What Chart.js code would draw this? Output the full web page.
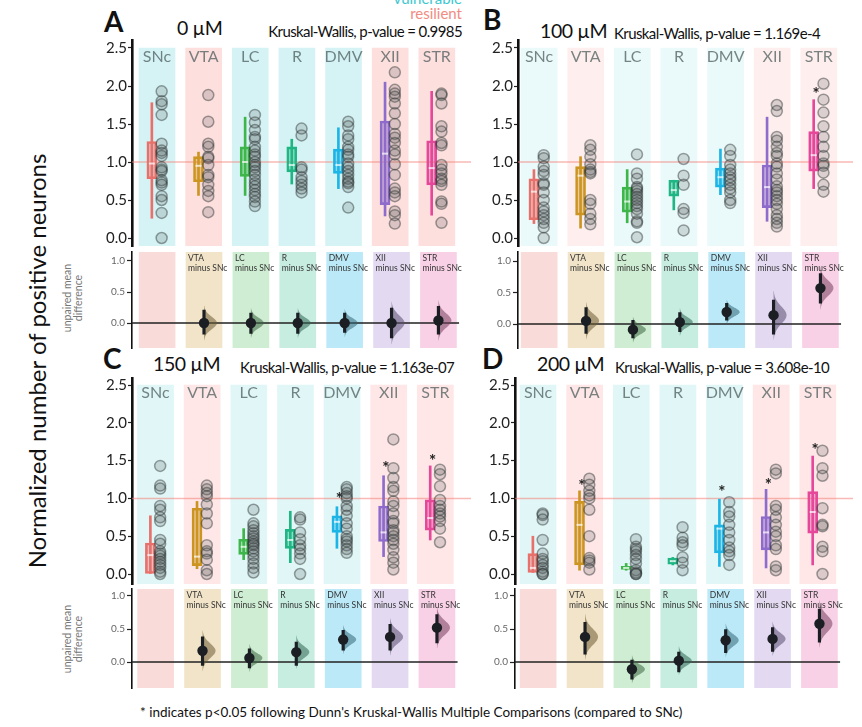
<!DOCTYPE html>
<html>
<head>
<meta charset="utf-8">
<script src="https://cdn.jsdelivr.net/npm/chart.js@4.4.1/dist/chart.umd.min.js"></script>
<style>
  body { margin: 0; width: 862px; height: 727px; background: #fff; position: relative; overflow: hidden; font-family: Lato, sans-serif; }
  canvas { position: absolute; }
  .t { position: absolute; white-space: nowrap; color: #111; }
  .dose { font-size: 19.5px; line-height: 20px; letter-spacing: -0.4px; }
  .kw { font-size: 15px; line-height: 15px; letter-spacing: -0.6px; }
  .rot { position: absolute; text-align: center; transform: rotate(-90deg); white-space: nowrap; }
</style>
</head>
<body>
<div class="t" style="right:400px;top:-9px;font-size:15px;line-height:15px;color:#3cc8d0">vulnerable</div>
<div class="t" style="right:400px;top:6px;font-size:15px;line-height:15px;color:#f28b82">resilient</div>

<div class="t" style="left:104px;top:7px;font-size:28px;line-height:28px;font-weight:bold">A</div>
<div class="t dose" style="left:177px;top:18px">0 µM</div>
<div class="t kw" style="right:400px;top:24px">Kruskal-Wallis, p-value = 0.9985</div>

<div class="t" style="left:483px;top:5px;font-size:28px;line-height:28px;font-weight:bold">B</div>
<div class="t dose" style="left:540px;top:21px">100 µM</div>
<div class="t kw" style="left:614px;top:26px">Kruskal-Wallis, p-value = 1.169e-4</div>

<div class="t" style="left:103px;top:344px;font-size:28px;line-height:28px;font-weight:bold">C</div>
<div class="t dose" style="left:153px;top:354px">150 µM</div>
<div class="t kw" style="left:240px;top:360px">Kruskal-Wallis, p-value = 1.163e-07</div>

<div class="t" style="left:482px;top:344px;font-size:28px;line-height:28px;font-weight:bold">D</div>
<div class="t dose" style="left:537px;top:354px">200 µM</div>
<div class="t kw" style="left:615px;top:360px">Kruskal-Wallis, p-value = 3.608e-10</div>

<div class="rot" style="left:-183px;top:347px;width:440px;font-size:24px;line-height:28px;color:#111">Normalized number of positive neurons</div>
<div class="rot" style="left:33px;top:287px;width:80px;font-size:10.5px;line-height:11px;color:#777">unpaired mean<br>difference</div>
<div class="rot" style="left:33px;top:628px;width:80px;font-size:10.5px;line-height:11px;color:#777">unpaired mean<br>difference</div>

<div class="t" style="left:140px;top:705px;font-size:13.5px;line-height:14px;color:#111">* indicates p&lt;0.05 following Dunn's Kruskal-Wallis Multiple Comparisons (compared to SNc)</div>

<script>
// groups and colours
const groups = ['SNc', 'VTA', 'LC', 'R', 'DMV', 'XII', 'STR'];
const vulnerable = [true, false, true, true, true, false, false];
const groupColors = ['#E8716B', '#CC9522', '#3FB64A', '#20B684', '#1DB5E6', '#8E6CCB', '#E5489B'];
const topTicks = [0, 0.5, 1, 1.5, 2, 2.5];
const diffTicks = [0, 0.5, 1];

// individual values, one list per group (SNc..STR)
const pointsA = [
  [1.93, 1.8, 1.76, 1.62, 1.24, 1.15, 1.12, 1.08, 0.93, 0.9, 0.88, 0.76, 0.73, 0.7, 0.55, 0.5, 0.33, 0.0],
  [1.88, 1.53, 1.24, 1.2, 1.07, 1.05, 0.96, 0.83, 0.8, 0.7, 0.62, 0.55, 0.34],
  [1.62, 1.52, 1.42, 1.33, 1.3, 1.2, 1.15, 1.1, 1.07, 1.0, 0.96, 0.93, 0.88, 0.83, 0.77, 0.72, 0.68, 0.63, 0.58, 0.54, 0.48, 0.42],
  [1.44, 1.35, 0.93, 0.9, 0.8, 0.75, 0.7, 0.65, 0.6],
  [1.53, 1.47, 1.35, 1.3, 1.2, 1.16, 1.1, 1.07, 0.98, 0.93, 0.88, 0.83, 0.78, 0.74, 0.72, 0.67, 0.4],
  [2.18, 1.95, 1.9, 1.86, 1.77, 1.64, 1.5, 1.37, 1.32, 1.25, 1.15, 1.1, 0.97, 0.83, 0.65, 0.6, 0.55, 0.35, 0.3, 0.19],
  [1.9, 1.88, 1.77, 1.47, 1.4, 1.25, 1.22, 0.96, 0.9, 0.85, 0.78, 0.75, 0.7, 0.48, 0.45, 0.2]
];
const pointsB = [
  [1.09, 1.05, 0.94, 0.88, 0.83, 0.72, 0.7, 0.6, 0.5, 0.4, 0.35, 0.3, 0.25, 0.2, 0.14, 0.0],
  [1.22, 1.16, 1.07, 0.97, 0.9, 0.87, 0.85, 0.5, 0.45, 0.32, 0.25, 0.18],
  [1.1, 0.85, 0.78, 0.67, 0.65, 0.62, 0.58, 0.54, 0.5, 0.46, 0.42, 0.38, 0.32, 0.22, 0.2, 0.01],
  [1.04, 0.82, 0.7, 0.38, 0.33, 0.1],
  [1.16, 1.08, 0.96, 0.9, 0.85, 0.8, 0.76, 0.7, 0.65, 0.6, 0.5, 0.46],
  [1.75, 1.67, 1.33, 1.28, 1.2, 1.12, 1.08, 0.98, 0.94, 0.85, 0.77, 0.68, 0.63, 0.6, 0.55, 0.5, 0.45, 0.38, 0.3, 0.25, 0.2, 0.15],
  [2.03, 1.82, 1.65, 1.47, 1.33, 1.2, 1.08, 0.98, 0.95, 0.86, 0.7, 0.61]
];
const pointsC = [
  [1.43, 1.17, 1.13, 0.9, 0.85, 0.75, 0.7, 0.45, 0.4, 0.3, 0.27, 0.24, 0.2, 0.16, 0.12, 0.08, 0.03, 0.0],
  [1.17, 1.12, 1.07, 1.03, 0.92, 0.8, 0.67, 0.38, 0.3, 0.27, 0.19, 0.05, 0.0],
  [0.85, 0.67, 0.63, 0.58, 0.54, 0.5, 0.47, 0.43, 0.4, 0.38, 0.34, 0.3, 0.25, 0.2, 0.14, 0.08, 0.02],
  [0.75, 0.72, 0.55, 0.46, 0.38, 0.33, 0.27, 0.2, 0.0],
  [1.15, 1.12, 1.07, 1.03, 1.0, 0.9, 0.85, 0.77, 0.67, 0.6, 0.5, 0.46, 0.43, 0.38, 0.33, 0.28],
  [1.78, 1.4, 1.27, 1.15, 1.1, 0.96, 0.9, 0.8, 0.7, 0.67, 0.58, 0.55, 0.5, 0.45, 0.4, 0.32, 0.22, 0.15, 0.06],
  [1.38, 1.32, 1.16, 0.98, 0.9, 0.85, 0.8, 0.76, 0.7, 0.6, 0.42]
];
const pointsD = [
  [0.8, 0.78, 0.72, 0.45, 0.27, 0.2, 0.17, 0.12, 0.08, 0.03, 0.0, 0.0],
  [1.26, 1.18, 1.1, 1.04, 1.0, 0.85, 0.5, 0.21, 0.18, 0.15, 0.06],
  [0.46, 0.36, 0.33, 0.3, 0.25, 0.2, 0.14, 0.05, 0.02, 0.0, 0.0],
  [0.62, 0.48, 0.42, 0.38, 0.22, 0.15, 0.05],
  [0.95, 0.82, 0.76, 0.65, 0.55, 0.45, 0.35, 0.3, 0.25, 0.12],
  [1.38, 1.33, 0.9, 0.85, 0.75, 0.65, 0.56, 0.5, 0.38, 0.33, 0.1, 0.05],
  [1.63, 1.4, 1.3, 0.87, 0.65, 0.63, 0.36, 0.3, 0.0]
];

// box summaries per group: [whisker low, q1, median, q3, whisker high]
const boxesA = [[0.26, 0.78, 0.98, 1.27, 1.78], [0.56, 0.74, 0.95, 1.07, 1.13], [0.56, 0.81, 1.0, 1.2, 1.59],
  [0.71, 0.87, 0.96, 1.2, 1.3], [0.65, 0.85, 0.96, 1.17, 1.45], [0.29, 0.44, 1.11, 1.54, 2.05], [0.3, 0.7, 0.92, 1.28, 1.93]];
const boxesB = [[0.19, 0.24, 0.61, 0.78, 0.9], [0.13, 0.3, 0.82, 0.94, 1.07], [0.2, 0.34, 0.48, 0.67, 0.9],
  [0.37, 0.55, 0.63, 0.76, 0.76], [0.57, 0.67, 0.8, 0.92, 1.17], [0.22, 0.4, 0.67, 0.96, 1.59], [0.65, 0.88, 1.09, 1.4, 1.82]];
const boxesC = [[0.0, 0.0, 0.25, 0.41, 0.77], [0.07, 0.11, 0.23, 0.87, 0.96], [0.19, 0.26, 0.36, 0.46, 0.6],
  [0.15, 0.34, 0.45, 0.59, 0.83], [0.34, 0.55, 0.69, 0.77, 0.89], [0.23, 0.43, 0.55, 0.9, 1.3], [0.45, 0.58, 0.74, 0.98, 1.43]];
const boxesD = [[0.02, 0.02, 0.08, 0.27, 0.5], [0.05, 0.12, 0.65, 0.96, 1.1], [0.05, 0.06, 0.08, 0.1, 0.14],
  [0.12, 0.13, 0.17, 0.21, 0.22], [0.1, 0.28, 0.6, 0.65, 0.99], [0.08, 0.32, 0.55, 0.76, 1.12], [0.12, 0.54, 0.82, 1.09, 1.56]];

// significance stars (height of the asterisk), null = none
const starsA = [null, null, null, null, null, null, null];
const starsB = [null, null, null, null, null, null, 1.94];
const starsC = [null, null, null, null, 1.03, 1.44, 1.54];
const starsD = [null, 1.21, null, null, 1.12, 1.22, 1.68];

// mean difference vs SNc for VTA..STR: [mean, ci low, ci high]
const diffsA = [[0.0, -0.18, 0.21], [0.0, -0.17, 0.16], [0.0, -0.17, 0.16], [0.0, -0.15, 0.16], [0.0, -0.24, 0.24], [0.04, -0.18, 0.27]];
const diffsB = [[0.05, -0.15, 0.26], [-0.09, -0.22, 0.06], [0.03, -0.12, 0.18], [0.19, 0.06, 0.33], [0.14, -0.16, 0.38], [0.57, 0.33, 0.8]];
const diffsC = [[0.17, -0.05, 0.38], [0.06, -0.09, 0.2], [0.15, -0.05, 0.3], [0.34, 0.18, 0.48], [0.38, 0.18, 0.57], [0.52, 0.29, 0.72]];
const diffsD = [[0.38, 0.12, 0.6], [-0.11, -0.26, 0.03], [0.02, -0.15, 0.15], [0.33, 0.14, 0.49], [0.35, 0.16, 0.52], [0.58, 0.3, 0.8]];

// pixel layout of each panel
const UNIT = 47.6;
const BOX_DX = -0.11, PT_DX = 0.1;
const layoutA = { axisX: 132, c1: 157.5, right: 478, top: [40, 246], y0: 238, y25: 48, bot: [252, 348], b0: 323, b1: 261 };
const layoutB = { axisX: 518, c1: 539.5, right: 860, top: [40, 246], y0: 238, y25: 48, bot: [252, 348], b0: 324, b1: 261 };
const layoutC = { axisX: 132, c1: 156, right: 478, top: [378, 584], y0: 574, y25: 385, bot: [589, 688], b0: 662, b1: 596 };
const layoutD = { axisX: 515, c1: 538.5, right: 860, top: [378, 584], y0: 574, y25: 385, bot: [589, 688], b0: 662, b1: 596 };

function rgba(hex, a, f = 1, g = 0) {
  // f scales the colour, g blends it towards a dark grey
  const n = parseInt(hex.slice(1), 16);
  const ch = v => Math.round((v * f) * (1 - g) + 70 * g);
  return `rgba(${ch(n >> 16)}, ${ch((n >> 8) & 255)}, ${ch(n & 255)}, ${a})`;
}

function xRange(L) {
  return { min: 1 - (L.c1 - L.axisX) / UNIT, max: 1 + (L.right - L.c1) / UNIT };
}

function yRange(pxTop, pxBottom, pxZero, pxRef, refVal) {
  const per = (pxZero - pxRef) / refVal;
  return { min: (pxZero - pxBottom) / per, max: (pxZero - pxTop) / per };
}

function placeCanvas(left, top, width, height) {
  const c = document.createElement('canvas');
  c.width = Math.round(width);
  c.height = Math.round(height);
  c.style.left = left + 'px';
  c.style.top = top + 'px';
  c.style.width = c.width + 'px';
  c.style.height = c.height + 'px';
  document.body.appendChild(c);
  return c;
}

function yAxis(range, ticks, o) {
  return {
    type: 'linear', min: range.min, max: range.max,
    afterBuildTicks: s => { s.ticks = ticks.map(v => ({ value: v })); },
    afterFit: s => { s.width = 32; s.paddingTop = 0; s.paddingBottom = 0; },
    border: { display: true, color: '#111', width: o.border },
    grid: { drawOnChartArea: false, drawTicks: true, tickLength: o.tickLen, tickColor: '#222', tickWidth: 1.2 },
    ticks: { color: o.color, font: { family: 'Lato', size: o.size }, padding: o.pad, callback: v => v.toFixed(1) }
  };
}

function baseOptions(xr, yScale, pad) {
  return {
    responsive: false, animation: false, events: [],
    layout: { padding: { top: pad, bottom: pad, left: 0, right: 0 } },
    plugins: { legend: { display: false }, tooltip: { enabled: false } },
    scales: {
      x: { type: 'linear', display: false, min: xr.min, max: xr.max, offset: false },
      y: yScale
    }
  };
}

function topText(stars) {
  return {
    id: 'topText',
    afterDatasetsDraw(chart) {
      const { ctx, scales: { x, y } } = chart;
      ctx.save();
      ctx.font = '16px Lato';
      ctx.fillStyle = 'rgba(70, 88, 88, 0.72)';
      ctx.textAlign = 'center';
      ctx.textBaseline = 'middle';
      groups.forEach((g, i) => ctx.fillText(g, x.getPixelForValue(i + 1), y.getPixelForValue(2.39)));
      ctx.font = 'bold 17px Lato';
      ctx.fillStyle = '#222';
      ctx.textBaseline = 'alphabetic';
      stars.forEach((s, i) => {
        if (s !== null) ctx.fillText('*', x.getPixelForValue(i + 1 - 0.06), y.getPixelForValue(s) + 9);
      });
      ctx.restore();
    }
  };
}

function drawTop(L, pts, box, stars, bandAlpha) {
  const xr = xRange(L);
  const yr = yRange(L.top[0], L.top[1], L.y0, L.y25, 2.5);
  const left = L.axisX - 32;
  const cv = placeCanvas(left, L.top[0] - 10, L.right - left, L.top[1] - L.top[0] + 20);
  const bandColors = vulnerable.map(v => v ? rgba('#2EC4CC', bandAlpha) : rgba('#F8766D', bandAlpha * 1.15));
  new Chart(cv, {
    type: 'scatter',
    data: {
      datasets: [
        { type: 'bar', label: 'bands', data: groups.map((g, i) => ({ x: i + 1, y: [yr.min, 2.5] })),
          backgroundColor: bandColors, barThickness: 36, grouped: false, order: 20 },
        { type: 'line', label: 'ref', data: [{ x: xr.min, y: 1 }, { x: xr.max, y: 1 }],
          borderColor: 'rgba(244, 128, 118, 0.55)', borderWidth: 1.5, pointRadius: 0, order: 15 },
        { type: 'bar', label: 'whiskers', data: box.map((b, i) => ({ x: i + 1 + BOX_DX, y: [b[0], b[4]] })),
          backgroundColor: groupColors, barThickness: 2, grouped: false, order: 12 },
        { type: 'bar', label: 'boxes', data: box.map((b, i) => ({ x: i + 1 + BOX_DX, y: [b[1], b[3]] })),
          backgroundColor: groupColors.map(c => rgba(c, 0.4)), borderColor: groupColors, borderWidth: 2,
          borderSkipped: false, barThickness: 10, grouped: false, order: 11 },
        { label: 'medians', data: box.map((b, i) => ({ x: i + 1 + BOX_DX, y: b[2] })),
          pointStyle: 'line', pointRadius: 3, borderColor: 'rgba(255, 255, 255, 0.7)', borderWidth: 2, order: 10 },
        { label: 'points', data: pts.flatMap((arr, i) => arr.map(v => ({ x: i + 1 + PT_DX, y: v }))),
          pointRadius: 5.5, backgroundColor: 'rgba(80, 85, 85, 0.2)', borderColor: 'rgba(45, 50, 50, 0.45)',
          borderWidth: 1.5, order: 5 }
      ]
    },
    options: baseOptions(xr, yAxis(yr, topTicks, { border: 2.6, tickLen: 4, size: 15, pad: 1, color: '#222' }), 10),
    plugins: [topText(stars)]
  });
}

function diffDecor(diffs) {
  return {
    id: 'diffDecor',
    afterDatasetDraw(chart, args) {
      if (chart.data.datasets[args.index].label !== 'zero') return;
      const { ctx, scales: { x, y } } = chart;
      ctx.save();
      diffs.forEach((d, k) => {
        const sd = (d[2] - d[1]) / 3.92;
        const cx = x.getPixelForValue(k + 2);
        ctx.beginPath();
        ctx.moveTo(cx, y.getPixelForValue(d[0] - 2.8 * sd));
        for (let t = -2.8; t <= 2.81; t += 0.1) {
          ctx.lineTo(cx + 13 * Math.exp(-0.5 * t * t), y.getPixelForValue(d[0] + t * sd));
        }
        ctx.lineTo(cx, y.getPixelForValue(d[0] + 2.8 * sd));
        ctx.closePath();
        ctx.fillStyle = rgba(groupColors[k + 1], 0.55, 0.8, 0.55);
        ctx.fill();
      });
      ctx.restore();
    },
    afterDatasetsDraw(chart) {
      const { ctx, chartArea, scales: { x } } = chart;
      ctx.save();
      ctx.font = '8.5px Lato';
      ctx.fillStyle = '#333';
      ctx.textAlign = 'left';
      ctx.textBaseline = 'top';
      groups.slice(1).forEach((g, k) => {
        const lx = x.getPixelForValue(k + 2) - 16;
        ctx.fillText(g, lx, chartArea.top + 2);
        ctx.fillText('minus SNc', lx, chartArea.top + 12);
      });
      ctx.restore();
    }
  };
}

function drawBottom(L, diffs) {
  const xr = xRange(L);
  const yr = yRange(L.bot[0], L.bot[1], L.b0, L.b1, 1);
  const left = L.axisX - 32;
  const cv = placeCanvas(left, L.bot[0] - 6, L.right - left, L.bot[1] - L.bot[0] + 12);
  new Chart(cv, {
    type: 'scatter',
    data: {
      datasets: [
        { type: 'bar', label: 'bands', data: groups.map((g, i) => ({ x: i + 1, y: [yr.min, yr.max] })),
          backgroundColor: groupColors.map((c, i) => rgba(c, i === 4 ? 0.3 : 0.25)), barThickness: 36, grouped: false, order: 20 },
        { type: 'line', label: 'zero', data: [{ x: xr.min, y: 0 }, { x: 7.44, y: 0 }],
          borderColor: '#222', borderWidth: 1.3, pointRadius: 0, order: 15 },
        { type: 'bar', label: 'ci', data: diffs.map((d, k) => ({ x: k + 2, y: [d[1], d[2]] })),
          backgroundColor: '#1b1f24', barThickness: 2.5, grouped: false, order: 8 },
        { label: 'mean', data: diffs.map((d, k) => ({ x: k + 2, y: d[0] })),
          pointRadius: 5.2, backgroundColor: '#1b1f24', borderWidth: 0, order: 7 }
      ]
    },
    options: baseOptions(xr, yAxis(yr, diffTicks, { border: 1.6, tickLen: 5, size: 10, pad: 2, color: '#666' }), 6),
    plugins: [diffDecor(diffs)]
  });
}

drawTop(layoutA, pointsA, boxesA, starsA, 0.2);
drawBottom(layoutA, diffsA);
drawTop(layoutB, pointsB, boxesB, starsB, 0.1);
drawBottom(layoutB, diffsB);
drawTop(layoutC, pointsC, boxesC, starsC, 0.15);
drawBottom(layoutC, diffsC);
drawTop(layoutD, pointsD, boxesD, starsD, 0.15);
drawBottom(layoutD, diffsD);
</script>
</body>
</html>
